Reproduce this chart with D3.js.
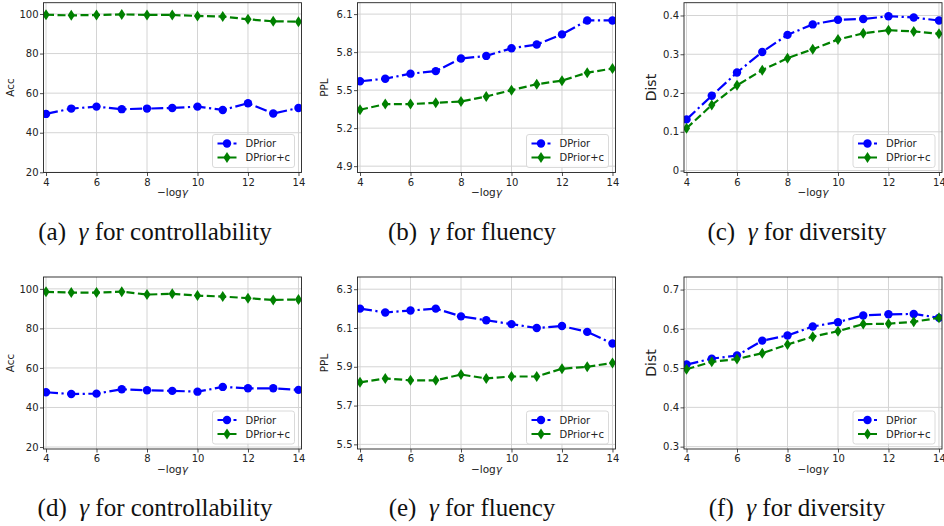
<!DOCTYPE html>
<html>
<head>
<meta charset="utf-8">
<script src="https://cdn.jsdelivr.net/npm/d3@7"></script>
<style>
  body { margin: 0; background: #fff; }
  svg { display: block; }
</style>
</head>
<body>
<div id="chart"></div>
<script>
// -log(gamma) values on the x axis
const gammas = [4, 5, 6, 7, 8, 9, 10, 11, 12, 13, 14];
const xTicks = [4, 6, 8, 10, 12, 14];

// top row
const accTopDPrior  = [49.5, 52.2, 53.2, 51.9, 52.2, 52.5, 53.2, 51.5, 54.9, 49.7, 52.5];
const accTopDPriorC = [99.6, 99.3, 99.5, 99.8, 99.5, 99.5, 99.0, 98.7, 97.3, 96.3, 96.1];
const pplTopDPrior  = [5.57, 5.59, 5.63, 5.65, 5.75, 5.77, 5.83, 5.86, 5.94, 6.05, 6.05];
const pplTopDPriorC = [5.345, 5.39, 5.39, 5.40, 5.41, 5.45, 5.50, 5.547, 5.575, 5.638, 5.67];
const distTopDPrior  = [0.132, 0.193, 0.253, 0.306, 0.350, 0.377, 0.389, 0.391, 0.398, 0.395, 0.387];
const distTopDPriorC = [0.109, 0.169, 0.220, 0.259, 0.290, 0.313, 0.338, 0.354, 0.362, 0.359, 0.353];

// bottom row
const accBotDPrior  = [47.7, 46.8, 47.0, 49.2, 48.7, 48.4, 48.0, 50.4, 49.7, 49.7, 48.9];
const accBotDPriorC = [98.5, 98.1, 98.1, 98.6, 97.1, 97.5, 96.6, 96.1, 95.3, 94.4, 94.6];
const pplBotDPrior  = [6.20, 6.18, 6.19, 6.20, 6.16, 6.14, 6.12, 6.10, 6.11, 6.08, 6.02];
const pplBotDPriorC = [5.82, 5.84, 5.83, 5.83, 5.86, 5.84, 5.85, 5.85, 5.89, 5.90, 5.92];
const distBotDPrior  = [0.509, 0.524, 0.532, 0.570, 0.583, 0.606, 0.617, 0.634, 0.637, 0.638, 0.628];
const distBotDPriorC = [0.497, 0.516, 0.523, 0.538, 0.560, 0.580, 0.594, 0.612, 0.613, 0.618, 0.628];

const accTicks = [20, 40, 60, 80, 100];
const pplTopTicks = [4.9, 5.2, 5.5, 5.8, 6.1];
const distTopTicks = [0, 0.1, 0.2, 0.3, 0.4];
const pplBotTicks = [5.5, 5.7, 5.9, 6.1, 6.3];
const distBotTicks = [0.3, 0.4, 0.5, 0.6, 0.7];

const seriesNames = ["DPrior", "DPrior+c"];
const captionLetters = ["a", "b", "c", "d", "e", "f"];
const captionTexts = ["for controllability", "for fluency", "for diversity",
                      "for controllability", "for fluency", "for diversity"];

const width = 944, height = 526;
const colors = { plus: "#0000ff", minus: "#008000" };

const svg = d3.select("#chart").append("svg")
  .attr("width", width)
  .attr("height", height);

// panel layout
const colLeft = [43.5, 357.5, 684];
const plotW = 258;
const rowTop = [2.7, 277];
const rowBottom = [172.5, 449];

const panels = [
  { row: 0, col: 0, label: "Acc", a: accTopDPrior, b: accTopDPriorC, ticks: accTicks, domain: [19.9, 105.7], fmt: d => d },
  { row: 0, col: 1, label: "PPL", a: pplTopDPrior, b: pplTopDPriorC, ticks: pplTopTicks, domain: [4.85, 6.19], fmt: d3.format(".1f") },
  { row: 0, col: 2, label: "Dist", big: true, a: distTopDPrior, b: distTopDPriorC, ticks: distTopTicks, domain: [-0.005, 0.433], fmt: d => d === 0 ? "0" : d3.format(".1f")(d) },
  { row: 1, col: 0, label: "Acc", a: accBotDPrior, b: accBotDPriorC, ticks: accTicks, domain: [19, 106], fmt: d => d },
  { row: 1, col: 1, label: "PPL", a: pplBotDPrior, b: pplBotDPriorC, ticks: pplBotTicks, domain: [5.476, 6.363], fmt: d3.format(".1f") },
  { row: 1, col: 2, label: "Dist", big: true, a: distBotDPrior, b: distBotDPriorC, ticks: distBotTicks, domain: [0.294, 0.732], fmt: d3.format(".1f") }
];

const diamond = "M0,-5.5L3.6,0L0,5.5L-3.6,0Z";

panels.forEach((p, i) => {
  const x0 = colLeft[p.col];
  const y0 = rowTop[p.row];
  const h = rowBottom[p.row] - y0;

  const g = svg.append("g").attr("transform", `translate(${x0},${y0})`);

  const x = d3.scaleLinear().domain([3.9, 14.12]).range([0, plotW]);
  const y = d3.scaleLinear().domain(p.domain).range([h, 0]);

  // grid
  g.append("g").selectAll("line").data(xTicks).join("line")
    .attr("x1", d => x(d)).attr("x2", d => x(d))
    .attr("y1", 0).attr("y2", h)
    .attr("stroke", "#d4d4d4").attr("stroke-width", 1);
  g.append("g").selectAll("line").data(p.ticks).join("line")
    .attr("x1", 0).attr("x2", plotW)
    .attr("y1", d => y(d)).attr("y2", d => y(d))
    .attr("stroke", "#d4d4d4").attr("stroke-width", 1);

  // axes
  const xAxis = g.append("g").attr("transform", `translate(0,${h})`)
    .call(d3.axisBottom(x).tickValues(xTicks).tickSize(3.5).tickPadding(2.5));
  const yAxis = g.append("g")
    .call(d3.axisLeft(y).tickValues(p.ticks).tickFormat(p.fmt).tickSize(3.5).tickPadding(1.5));
  [xAxis, yAxis].forEach(ax => {
    ax.select(".domain").remove();
    ax.selectAll("line").attr("stroke", "#222").attr("stroke-width", 0.8);
    ax.selectAll("text").attr("font-family", "DejaVu Sans").attr("font-size", "10px").attr("fill", "#222");
  });

  // clip lines to the plot area
  const clipId = "clip" + i;
  g.append("clipPath").attr("id", clipId).append("rect")
    .attr("x", 0).attr("y", 0).attr("width", plotW).attr("height", h);
  const body = g.append("g").attr("clip-path", `url(#${clipId})`);

  const line = d3.line().x((d, k) => x(gammas[k])).y(d => y(d));

  body.append("path").datum(p.a)
    .attr("d", line).attr("fill", "none")
    .attr("stroke", colors.plus).attr("stroke-width", 2.2)
    .attr("stroke-dasharray", "12,3.5,2.2,3.5");
  body.selectAll(".dot").data(p.a).join("circle")
    .attr("cx", (d, k) => x(gammas[k])).attr("cy", d => y(d))
    .attr("r", 4.2).attr("fill", colors.plus);

  body.append("path").datum(p.b)
    .attr("d", line).attr("fill", "none")
    .attr("stroke", colors.minus).attr("stroke-width", 2.2)
    .attr("stroke-dasharray", "8,3.5");
  body.selectAll(".dia").data(p.b).join("path")
    .attr("transform", (d, k) => `translate(${x(gammas[k])},${y(d)})`)
    .attr("d", diamond).attr("fill", colors.minus);

  // frame
  g.append("rect").attr("width", plotW).attr("height", h)
    .attr("fill", "none").attr("stroke", "#222").attr("stroke-width", 0.9);

  // axis labels
  g.append("text")
    .attr("x", plotW / 2).attr("y", h + 23.5)
    .attr("text-anchor", "middle")
    .attr("font-family", "DejaVu Sans").attr("font-size", "10.5px").attr("fill", "#222")
    .html("\u2212log<tspan font-style='italic'>\u03b3</tspan>");
  g.append("text")
    .attr("transform", `translate(${p.big ? -28 : -30},${h / 2}) rotate(-90)`)
    .attr("text-anchor", "middle")
    .attr("font-family", "DejaVu Sans").attr("font-size", p.big ? "14px" : "10.5px").attr("fill", "#222")
    .text(p.label);

  // legend
  const lw = 82, lh = 33;
  const legend = g.append("g").attr("transform", `translate(${plotW - lw - 7},${h - lh - 5})`);
  legend.append("rect").attr("width", lw).attr("height", lh).attr("rx", 2.5)
    .attr("fill", "#fff").attr("fill-opacity", 0.85)
    .attr("stroke", "#d0d0d0").attr("stroke-width", 0.8);
  seriesNames.forEach((name, k) => {
    const ly = 9 + k * 14;
    const row = legend.append("g").attr("transform", `translate(0,${ly})`);
    row.append("line").attr("x1", 5).attr("x2", 24)
      .attr("stroke", k === 0 ? colors.plus : colors.minus).attr("stroke-width", 2.2)
      .attr("stroke-dasharray", k === 0 ? "8,3,2,3" : "8,3");
    if (k === 0) {
      row.append("circle").attr("cx", 14.5).attr("r", 4.2).attr("fill", colors.plus);
    } else {
      row.append("path").attr("transform", "translate(14.5,0)").attr("d", diamond).attr("fill", colors.minus);
    }
    row.append("text").attr("x", 33).attr("y", 3.8)
      .attr("font-family", "DejaVu Sans").attr("font-size", "10px").attr("fill", "#222")
      .text(name);
  });

  // caption
  const capX = [155, 472, 797][p.col];
  const capY = [240, 516][p.row];
  svg.append("text")
    .attr("x", capX).attr("y", capY)
    .attr("text-anchor", "middle")
    .attr("font-family", "Liberation Serif, Times New Roman, serif").attr("font-size", "25px").attr("fill", "#111")
    .html(`(${captionLetters[i]})\u00a0 <tspan font-style="italic">\u03b3</tspan> ${captionTexts[i]}`);
});
</script>
</body>
</html>
